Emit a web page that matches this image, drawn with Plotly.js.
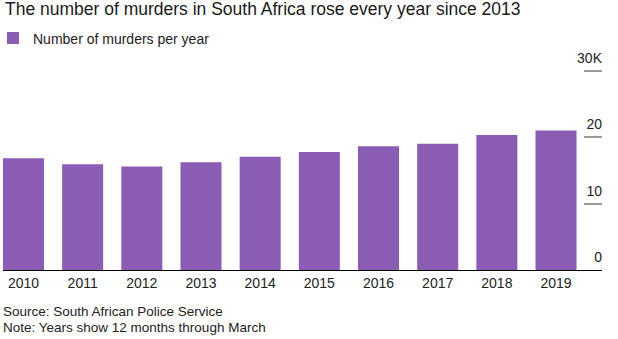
<!DOCTYPE html>
<html>
<head>
<meta charset="utf-8">
<script src="https://cdn.plot.ly/plotly-3.0.1.min.js"></script>
<style>html,body{margin:0;padding:0;background:#fff;}#chart{width:618px;height:339px;}</style>
</head>
<body>
<div id="chart"></div>
<script>
const years = ['2010','2011','2012','2013','2014','2015','2016','2017','2018','2019'];
const murders = [16834, 15940, 15609, 16259, 17068, 17805, 18673, 19016, 20336, 21022];
const yTickVals = [0, 10000, 20000, 30000];
const yTickText = ['0', '10', '20', '30K'];
const seriesName = 'Number of murders per year';
const titleText = 'The number of murders in South Africa rose every year since 2013';
const sourceText = 'Source: South African Police Service';
const noteText = 'Note: Years show 12 months through March';

const font = 'Liberation Sans, Arial, sans-serif';
const data = [{
  type: 'bar',
  x: years,
  y: murders,
  name: seriesName,
  marker: {color: '#8a5cb4'},
  showlegend: true,
  hoverinfo: 'x+y'
}];
const layout = {
  width: 618, height: 339,
  margin: {l: 3, r: 16, t: 48, b: 69, autoexpand: false},
  paper_bgcolor: '#fff', plot_bgcolor: '#fff',
  font: {family: font, color: '#222'},
  bargap: 0.307,
  title: {text: titleText, x: 0, xref: 'paper', xanchor: 'left', y: 1, yref: 'container', yanchor: 'top', pad: {t: 3, l: 2},
          font: {family: font, size: 17.5, color: '#1a1a1a'}},
  showlegend: true,
  legend: {x: -0.0167, xanchor: 'left', y: 1.115, yanchor: 'top', orientation: 'h', font: {family: font, size: 14, color: '#222'},
           bgcolor: 'rgba(0,0,0,0)', itemwidth: 30},
  xaxis: {type: 'category', range: [-0.346, 9.777], showline: true, linecolor: '#000', linewidth: 1,
          ticks: '', showgrid: false, zeroline: false, tickfont: {family: font, size: 14, color: '#222'}, fixedrange: true},
  yaxis: {range: [0, 33467], side: 'right', tickvals: yTickVals, ticktext: yTickText, ticks: 'inside', ticklen: 18, tickwidth: 2,
          tickcolor: '#999', ticklabelposition: 'inside top', ticklabelshift: -2, ticklabelstandoff: -3,
          showgrid: false, zeroline: false, showline: false,
          tickfont: {family: font, size: 14, color: '#222'}, fixedrange: true},
  annotations: [
    {text: sourceText, xref: 'paper', yref: 'paper', x: -0.003, y: -0.142, xanchor: 'left', yanchor: 'top', showarrow: false,
     font: {family: font, size: 13.5, color: '#222'}},
    {text: noteText, xref: 'paper', yref: 'paper', x: -0.003, y: -0.214, xanchor: 'left', yanchor: 'top', showarrow: false,
     font: {family: font, size: 13.5, color: '#222'}}
  ]
};
Plotly.newPlot('chart', data, layout, {displayModeBar: false, staticPlot: true});
</script>
</body>
</html>
